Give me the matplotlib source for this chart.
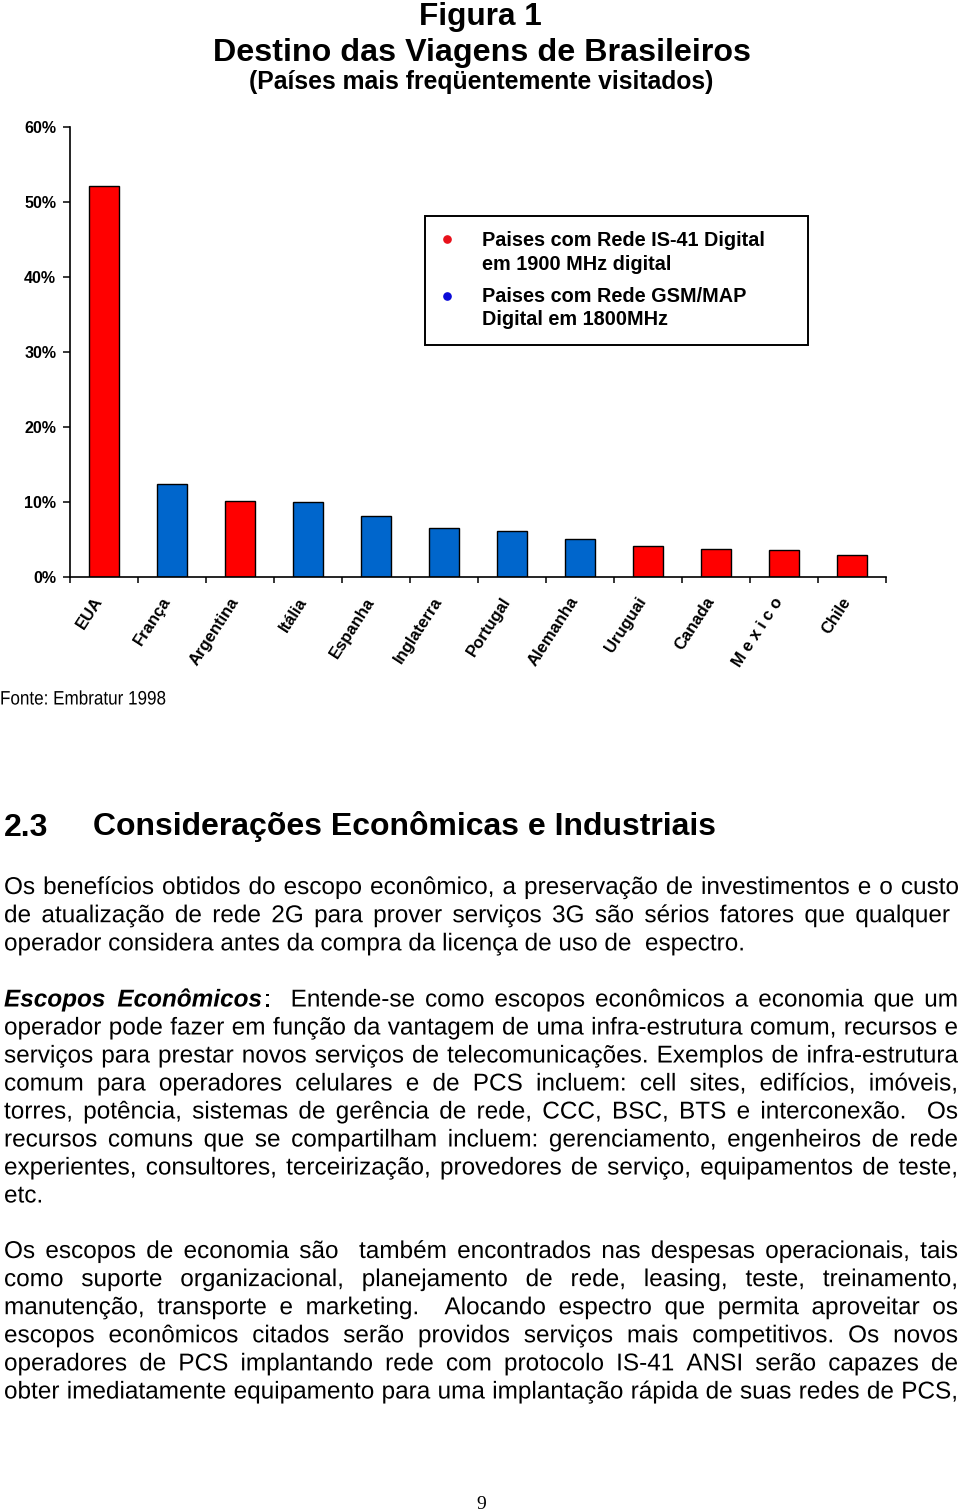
import matplotlib
matplotlib.use("Agg")
import matplotlib.pyplot as plt
from matplotlib.patches import Rectangle, PathPatch
from matplotlib.lines import Line2D
from matplotlib.textpath import TextPath, text_to_path
from matplotlib.font_manager import FontProperties
from matplotlib.transforms import Affine2D

# ---------------- data ----------------
countries = ["EUA", "França", "Argentina", "Itália", "Espanha", "Inglaterra",
             "Portugal", "Alemanha", "Uruguai", "Canada", "Mexico", "Chile"]
country_labels = ["EUA", "França", "Argentina", "Itália", "Espanha", "Inglaterra",
                  "Portugal", "Alemanha", "Uruguai", "Canada", "M e x i c o", "Chile"]
share_pct = [52.2, 12.4, 10.2, 10.0, 8.2, 6.5, 6.2, 5.1, 4.2, 3.8, 3.6, 2.9]
network = ["IS-41", "GSM", "IS-41", "GSM", "GSM", "GSM",
           "GSM", "GSM", "IS-41", "IS-41", "IS-41", "IS-41"]
y_ticks = [0, 10, 20, 30, 40, 50, 60]
y_tick_labels = ["0%", "10%", "20%", "30%", "40%", "50%", "60%"]
legend_labels = ["Paises com Rede IS-41 Digital\nem 1900 MHz digital",
                 "Paises com Rede GSM/MAP\nDigital em 1800MHz"]

title_lines = ["Figura 1", "Destino das Viagens de Brasileiros",
               "(Países mais freqüentemente visitados)"]
source_text = "Fonte: Embratur 1998"
section_number = "2.3"
section_title = "Considerações Econômicas e Industriais"
page_number = "9"

paragraph1 = [
    "Os benefícios obtidos do escopo econômico, a preservação de investimentos e o custo",
    "de atualização de rede 2G para prover serviços 3G são sérios fatores que qualquer",
    "operador considera antes da compra da licença de uso de  espectro.",
]
paragraph2 = [
    "Escopos Econômicos:  Entende-se como escopos econômicos a economia que um",
    "operador pode fazer em função da vantagem de uma infra-estrutura comum, recursos e",
    "serviços para prestar novos serviços de telecomunicações. Exemplos de infra-estrutura",
    "comum para operadores celulares e de PCS incluem: cell sites, edifícios, imóveis,",
    "torres, potência, sistemas de gerência de rede, CCC, BSC, BTS e interconexão.  Os",
    "recursos comuns que se compartilham incluem: gerenciamento, engenheiros de rede",
    "experientes, consultores, terceirização, provedores de serviço, equipamentos de teste,",
    "etc.",
]
paragraph3 = [
    "Os escopos de economia são  também encontrados nas despesas operacionais, tais",
    "como suporte organizacional, planejamento de rede, leasing, teste, treinamento,",
    "manutenção, transporte e marketing.  Alocando espectro que permita aproveitar os",
    "escopos econômicos citados serão providos serviços mais competitivos. Os novos",
    "operadores de PCS implantando rede com protocolo IS-41 ANSI serão capazes de",
    "obter imediatamente equipamento para uma implantação rápida de suas redes de PCS,",
]
bold_italic_words = ["Escopos", "Econômicos"]

# ---------------- setup ----------------
W, H = 960, 1512
fig = plt.figure(figsize=(W / 100, H / 100), dpi=100)
fig.patch.set_facecolor("white")
renderer = fig.canvas.get_renderer()

SANS = "Liberation Sans"
SERIF = "Liberation Serif"
PIX = Affine2D().scale(1 / W, 1 / H) + fig.transFigure  # pixel coords (y up)


def fx(x):
    return x / W


def fy(y):
    return 1 - y / H


def text_width(s, size, **kw):
    t = fig.text(0, 0, s, fontsize=size, **kw)
    w = t.get_window_extent(renderer).width
    t.remove()
    return w


def fit_size(s, target, ref=20.0, **kw):
    return ref * target / text_width(s, ref, **kw)


def fprop(px, weight="normal", style="normal", family=SANS):
    return FontProperties(family=family, weight=weight, style=style, size=px)


def path_width(s, fp):
    w, _, _ = text_to_path.get_text_width_height_descent(s, fp, ismath=False)
    return w


def path_text(s, x, baseline, fp, sx=1.0, color="black"):
    tp = TextPath((0, 0), s, prop=fp)
    path = Affine2D().scale(sx, 1).translate(x, H - baseline).transform_path(tp)
    fig.add_artist(PathPatch(path, facecolor=color, edgecolor="none",
                             linewidth=0, transform=PIX))


RED = "#FF0000"
BLUE = "#0066CC"
color_of = {"IS-41": RED, "GSM": BLUE}
legend_dot_colors = ["#E8101A", "#0A0AD8"]

# ---------------- titles ----------------
sz = fit_size(title_lines[0], 122, family=SANS, weight="bold")
fig.text(fx(480), fy(25), title_lines[0], ha="center", va="baseline",
         family=SANS, weight="bold", fontsize=sz)
sz = fit_size(title_lines[1], 536, family=SANS, weight="bold")
fig.text(fx(482), fy(61.5), title_lines[1], ha="center", va="baseline",
         family=SANS, weight="bold", fontsize=sz)
sz = fit_size(title_lines[2], 464, family=SANS, weight="bold")
fig.text(fx(481), fy(89.5), title_lines[2], ha="center", va="baseline",
         family=SANS, weight="bold", fontsize=sz)

# ---------------- chart ----------------
ax = fig.add_axes([fx(70), fy(577), 816 / W, 450 / H])
x = list(range(len(countries)))
ax.bar(x, share_pct, width=0.43, color=[color_of[n] for n in network],
       edgecolor="black", linewidth=1.0, zorder=2)
ax.set_xlim(-0.5, len(countries) - 0.5)
ax.set_ylim(0, 60)
for s in ("top", "right"):
    ax.spines[s].set_visible(False)
for s in ("left", "bottom"):
    ax.spines[s].set_linewidth(1.2)
    ax.spines[s].set_zorder(3)

ax.set_yticks(y_ticks)
ax.set_yticklabels(y_tick_labels, fontsize=11.5, fontweight="bold", family=SANS)
ax.tick_params(axis="y", direction="out", length=5, width=1.1, pad=5.0)

ax.set_xticks([i - 0.07 for i in x])
ax.set_xticklabels(country_labels, fontsize=12, fontweight="bold", family=SANS)
ax.set_xticks([i - 0.5 for i in range(len(countries) + 1)], minor=True)
ax.tick_params(axis="x", which="major", length=0, pad=15.5)
ax.tick_params(axis="x", which="minor", direction="out", length=4.5, width=1.1)
for lbl in ax.get_xticklabels():
    lbl.set_rotation(57)
    lbl.set_ha("right")
    lbl.set_va("center")
    lbl.set_rotation_mode("anchor")

# legend box (manual)
fig.add_artist(Rectangle((fx(425), fy(345)), 383 / W, 129 / H,
                         transform=fig.transFigure, fill=False,
                         edgecolor="black", linewidth=1.4))
leg_size = fit_size(legend_labels[0].split("\n")[0], 283, family=SANS, weight="bold")
dot_y = [239, 296]
text_base = [246.5, 301.5]
for k, lab in enumerate(legend_labels):
    fig.add_artist(Line2D([fx(447)], [fy(dot_y[k])], marker="o", markersize=5.2,
                          color=legend_dot_colors[k], linestyle="none",
                          transform=fig.transFigure))
    for j, line in enumerate(lab.split("\n")):
        fig.text(fx(482), fy(text_base[k] + j * 23.5), line, ha="left",
                 va="baseline", family=SANS, weight="bold", fontsize=leg_size)

# source (condensed look)
src_fp = fprop(19.5)
src_sx = 166 / path_width(source_text, src_fp)
path_text(source_text, 0, 704.5, src_fp, sx=src_sx)

# ---------------- section heading ----------------
hsz = fit_size(section_title, 625, family=SANS, weight="bold")
fig.text(fx(4), fy(835.5), section_number, ha="left", va="baseline",
         family=SANS, weight="bold", fontsize=hsz)
fig.text(fx(93), fy(835.5), section_title, ha="left", va="baseline",
         family=SANS, weight="bold", fontsize=hsz)

# ---------------- body text (justified, drawn as paths) ----------------
REG = fprop(20.0)
body_px = 20.0 * 741 / path_width(paragraph1[2], REG)
REG = fprop(body_px)
BI = fprop(body_px, weight="bold", style="italic")
space_w = path_width("a a", REG) - path_width("aa", REG)


def tokenize(line, styled):
    out = []
    for w in line.split(" "):
        if w == "":
            out.append(None)  # extra gap
            continue
        segs = None
        if styled:
            for b in bold_italic_words:
                if w.startswith(b):
                    segs = [(b, BI)]
                    rest = w[len(b):]
                    if rest:
                        segs.append((rest, REG))
                    break
        out.append(segs if segs else [(w, REG)])
    return out


def draw_line(line, baseline, x0=4, x1=958, justify=True, styled=False):
    toks = tokenize(line, styled)
    widths = []
    for t in toks:
        if t is None:
            widths.append(0)
        else:
            ww = 0
            for s, fp in t:
                ww += path_width(s, fp) + (2 if fp is BI else 0)
            widths.append(ww)
    ngaps = len(toks) - 1
    if justify and ngaps > 0:
        gap = (x1 - x0 - sum(widths)) / ngaps
    else:
        gap = space_w
    cur = x0
    for t, w in zip(toks, widths):
        if t is not None:
            xx = cur
            for s, fp in t:
                path_text(s, xx, baseline, fp)
                xx += path_width(s, fp) + (2 if fp is BI else 0)
        cur += w + gap


def draw_paragraph(lines, first_baseline, spacing, last_justified=False,
                   ends=None, styled_first=False):
    for i, line in enumerate(lines):
        last = i == len(lines) - 1
        x1 = ends[i] if ends and ends[i] else 958
        draw_line(line, first_baseline + i * spacing, x1=x1,
                  justify=(not last) or last_justified,
                  styled=(styled_first and i == 0))


draw_paragraph(paragraph1, 894, 28.2, ends=[959, 950, None])
draw_paragraph(paragraph2, 1006.5, 28.0, styled_first=True)
draw_paragraph(paragraph3, 1258, 28.1, last_justified=True)

# page number
fig.text(fx(481), fy(1509), page_number, ha="center", va="baseline",
         family=SERIF, fontsize=14)

fig.savefig("out.png", dpi=100, facecolor="white")
